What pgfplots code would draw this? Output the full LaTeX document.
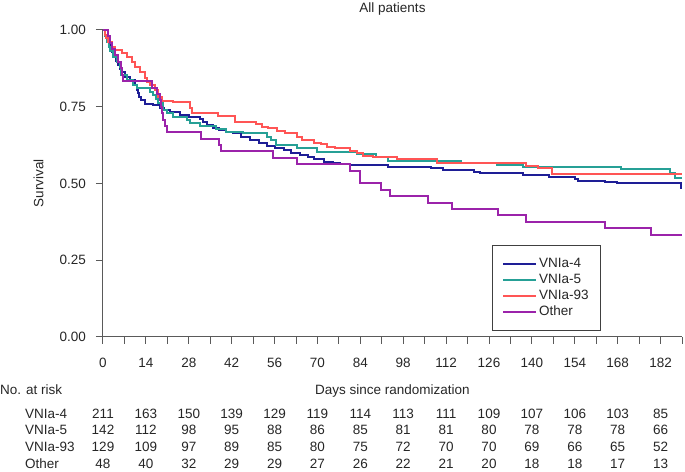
\documentclass[border=0pt]{standalone}
\usepackage{fontspec}
\setmainfont{Liberation Sans}
\usepackage{pgfplots}
\usepackage{pgfplotstable}
\pgfplotsset{compat=1.18}
\definecolor{cfour}{RGB}{30,30,150}
\definecolor{cfive}{RGB}{38,160,150}
\definecolor{cnine}{RGB}{255,85,85}
\definecolor{cother}{RGB}{155,35,170}
\definecolor{axgray}{RGB}{90,90,90}
\newcommand{\fs}{\fontsize{13.5}{16}\selectfont}

\pgfplotstableread{
day s
0 1
0.8 0.981
1.3 0.967
1.8 0.957
2.3 0.946
2.9 0.929
3.4 0.915
4.2 0.900
4.9 0.886
5.5 0.874
6.0 0.864
7.2 0.848
8.8 0.837
10.5 0.820
11.0 0.805
11.5 0.793
11.8 0.783
12.5 0.772
13.7 0.760
16.4 0.755
18.6 0.747
20.0 0.740
22.0 0.734
25.0 0.723
28.0 0.716
31.7 0.709
32.8 0.700
33.9 0.690
36.0 0.682
38.0 0.674
40.0 0.668
42.5 0.663
45.0 0.652
48.0 0.641
51.0 0.632
53.5 0.623
56.0 0.616
59.0 0.609
61.5 0.600
64.4 0.592
67.0 0.585
69.0 0.578
72.0 0.571
75.0 0.566
77.5 0.563
80.7 0.560
92.9 0.554
107.0 0.549
111.0 0.543
121.0 0.538
123.0 0.535
137.0 0.527
145.5 0.520
154.0 0.513
155.0 0.509
164.0 0.503
167.9 0.500
188.6 0.484
189 0.484
}\tfour

\pgfplotstableread{
day s
0 1
0.7 0.979
1.2 0.962
1.8 0.944
2.3 0.930
3.3 0.913
4.5 0.896
5.6 0.880
6.0 0.853
7.7 0.837
9.9 0.821
11.0 0.810
15.4 0.799
16.4 0.788
17.2 0.775
18.0 0.761
19.7 0.739
21.0 0.728
23.0 0.717
27.4 0.707
28.4 0.697
31.7 0.687
37.0 0.677
40.0 0.669
45.8 0.663
53.5 0.652
55.0 0.641
56.5 0.625
63.3 0.614
70.0 0.603
83.0 0.596
89.0 0.587
93.0 0.574
116.7 0.565
128.7 0.560
137.0 0.554
169.0 0.546
185.0 0.533
186.6 0.516
189 0.516
}\tfive

\pgfplotstableread{
day s
0 1
0.6 0.984
1.1 0.973
1.7 0.962
2.8 0.946
3.9 0.935
6.1 0.924
7.7 0.913
9.4 0.897
10.5 0.880
12.1 0.864
13.7 0.843
14.5 0.832
15.4 0.821
17.0 0.804
18.0 0.783
19.2 0.769
23.0 0.764
28.4 0.745
29.0 0.728
37.6 0.718
43.0 0.700
50.0 0.694
52.0 0.685
54.0 0.679
56.8 0.670
59.5 0.664
63.3 0.652
65.0 0.641
69.0 0.633
71.0 0.627
73.0 0.620
75.8 0.614
80.7 0.606
83.0 0.598
85.0 0.590
88.0 0.585
96.0 0.578
109.0 0.567
138.0 0.558
142.0 0.549
146.6 0.530
189 0.530
}\tnine

\pgfplotstableread{
day s
0 1
1.7 0.979
2.2 0.958
3.0 0.9375
4.0 0.917
5.0 0.896
5.8 0.875
6.2 0.854
6.6 0.833
15.9 0.8125
17.5 0.792
18.6 0.771
19.0 0.750
19.4 0.729
19.7 0.708
20.3 0.6875
20.8 0.667
32.1 0.646
38.0 0.625
38.5 0.604
55.6 0.583
63.3 0.5625
80.7 0.5417
83.8 0.500
90.7 0.479
93.8 0.458
106.0 0.4375
114.0 0.417
129.0 0.396
138.0 0.375
163.8 0.354
178.8 0.333
189 0.333
}\tother

\begin{document}
\fs
\begin{tikzpicture}
\path[use as bounding box] (0,0) rectangle (685pt,471pt);
\begin{axis}[
  at={(103pt,134.3pt)}, anchor=south west,
  scale only axis, width=579pt, height=306.7pt,
  xmin=0, xmax=189, ymin=0, ymax=1,
  axis x line*=bottom, axis y line*=left,
  axis line style={axgray, line width=1pt},
  every tick/.style={axgray, line width=1pt},
  tick align=outside,
  major tick length=7pt, minor tick length=7pt,
  xtick={0,14,...,182}, minor xtick={7,21,...,189},
  ytick={0,0.25,0.5,0.75,1},
  /pgf/number format/assume math mode=true,
  yticklabel style={/pgf/number format/fixed, /pgf/number format/fixed zerofill, /pgf/number format/precision=2},
  tick label style={font=\fs, text=black!85},
  xticklabel style={anchor=base, yshift=-23.6pt},
  yticklabel style={anchor=base east, inner sep=0pt, xshift=-10pt, yshift=-4.8pt},
  title={All patients},
  every axis title/.style={at={(0.5,1.0577)}, anchor=base, font=\fs, text=black!85},
  xlabel={Days since randomization},
  every axis x label/.style={at={(0.5,-0.1878)}, anchor=base, font=\fs, text=black!85},
  ylabel={Survival},
  every axis y label/.style={at={(-0.1114,0.5)}, rotate=90, anchor=center, font=\fs, text=black!85},
  legend style={at={(0.6713,0.299)}, anchor=north west, draw=black!75, line width=1pt,
    font=\fs, text=black!85, cells={anchor=west}, inner xsep=10pt, inner ysep=11pt, row sep=0.4pt},
  legend image code/.code={\draw[#1] (0pt,0pt) -- (25pt,0pt); \path (0pt,0pt) -- (33pt,0pt);},
  clip=false,
]
\addplot[const plot, cfour, line width=2pt] table[x=day, y=s] {\tfour};
\addlegendentry{VNIa-4}
\addplot[const plot, cfive, line width=2pt] table[x=day, y=s] {\tfive};
\addlegendentry{VNIa-5}
\addplot[const plot, cnine, line width=2pt] table[x=day, y=s] {\tnine};
\addlegendentry{VNIa-93}
\addplot[const plot, cother, line width=2pt] table[x=day, y=s] {\tother};
\addlegendentry{Other}
\end{axis}
\begin{scope}[every node/.style={font=\fs, text=black!85, inner sep=0pt}]
\node[anchor=base west] at (0pt,76.7pt) {No. at risk};
\node[anchor=base west] at (25pt,52.7pt) {VNIa-4};
\node[anchor=base west] at (25pt,36pt) {VNIa-5};
\node[anchor=base west] at (25pt,19.3pt) {VNIa-93};
\node[anchor=base west] at (25pt,2.5pt) {Other};
\foreach \n [count=\k from 0] in {211,163,150,139,129,119,114,113,111,109,107,106,103,85}
  \node[anchor=base] at ({103pt+42.889pt*\k},52.7pt) {\n};
\foreach \n [count=\k from 0] in {142,112,98,95,88,86,85,81,81,80,78,78,78,66}
  \node[anchor=base] at ({103pt+42.889pt*\k},36pt) {\n};
\foreach \n [count=\k from 0] in {129,109,97,89,85,80,75,72,70,70,69,66,65,52}
  \node[anchor=base] at ({103pt+42.889pt*\k},19.3pt) {\n};
\foreach \n [count=\k from 0] in {48,40,32,29,29,27,26,22,21,20,18,18,17,13}
  \node[anchor=base] at ({103pt+42.889pt*\k},2.5pt) {\n};
\end{scope}
\end{tikzpicture}
\end{document}
